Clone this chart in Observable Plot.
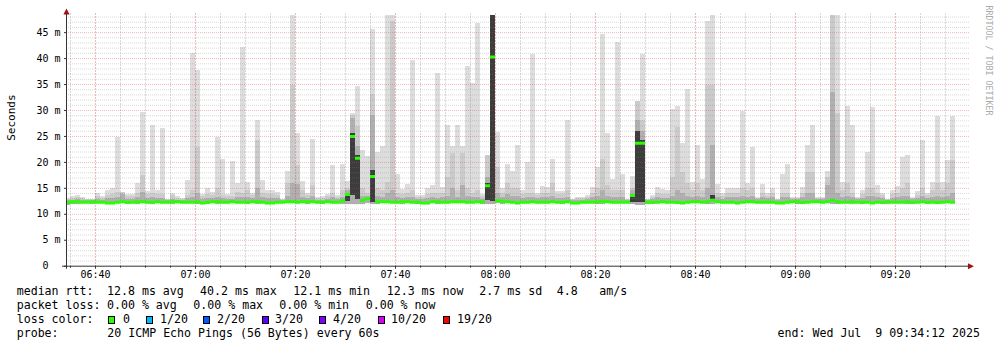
<!DOCTYPE html>
<html>
<head>
<meta charset="utf-8">
<script src="https://cdn.jsdelivr.net/npm/d3@7"></script>
<script src="https://cdn.jsdelivr.net/npm/@observablehq/plot@0.6"></script>
<style>
  html, body { margin: 0; padding: 0; background: #fff; }
  #wrap { position: relative; width: 997px; height: 347px; overflow: hidden; background: #fff; }
  #wrap svg { position: absolute; left: 0; top: 0; }
  .lg { position: absolute; font-family: "DejaVu Sans Mono", monospace; font-size: 11.6px; line-height: 14px; white-space: pre; color: #000; }
  .box { position: absolute; width: 5px; height: 6px; border: 1px solid #000; }
</style>
</head>
<body>
<div id="wrap"></div>
<script>
// ---- data (one value per minute, first bar starts 06:34) ----
const firstBar = "2025-07-09T06:34:00Z";
const startTime = "2025-07-09T06:34:12Z";
const endTime = "2025-07-09T09:34:12Z";

const maxRtt = [13.0,13.4,13.6,13.2,12.9,12.9,14.0,13.4,14.5,15.0,
 24.8,14.2,13.9,13.8,16.0,29.7,14.4,27.2,14.6,26.6,
 12.9,14.1,13.4,13.0,16.5,41.0,37.8,13.8,15.0,14.2,
 24.8,20.5,13.9,20.1,15.9,42.1,16.2,14.1,28.1,16.5,
 14.5,14.5,14.2,12.9,18.2,48.5,25.6,16.3,14.1,24.4,
 13.3,13.4,13.9,19.4,13.6,19.6,16.3,29.5,34.7,22.2,
 21.2,45.6,22.0,23.0,48.5,48.5,17.6,14.7,15.7,39.6,
 13.6,13.6,15.0,15.6,37.2,15.2,27.2,23.1,27.1,23.1,
 38.5,35.2,46.7,13.9,21.3,48.5,25.8,15.0,19.6,18.2,
 23.3,14.5,20.0,40.8,14.1,15.3,15.2,20.5,14.3,14.3,
 28.1,12.9,13.2,13.2,13.6,15.2,19.1,44.6,25.6,16.7,
 43.1,17.6,12.9,17.3,31.7,40.7,12.9,13.7,15.2,14.7,
 14.5,30.1,30.8,23.7,34.1,16.1,23.3,16.7,47.2,48.5,
 15.7,14.0,15.0,15.0,15.0,29.8,16.0,22.8,13.3,15.7,
 14.0,15.0,12.9,17.6,19.6,13.2,13.2,15.2,23.3,27.2,
 13.2,13.2,18.2,48.5,48.5,16.2,30.8,27.2,13.2,14.6,
 22.0,30.5,15.5,14.1,12.9,14.5,15.3,21.0,21.3,13.2,
 14.3,24.2,14.0,16.2,28.9,16.2,20.3,28.8];

const p90Rtt = [12.8,13.1,13.2,13.0,12.8,12.8,13.4,13.1,13.6,13.8,
 14.2,14.2,13.5,13.4,14.0,17.5,13.8,14.0,13.8,13.8,
 12.8,13.6,13.1,12.8,13.6,14.5,22.8,13.4,13.8,13.6,
 15.0,13.6,13.4,13.4,14.2,14.0,14.5,13.6,24.3,14.0,
 13.8,13.8,13.6,12.8,15.9,34.9,19.4,14.5,13.6,15.6,
 13.0,13.0,13.4,14.0,13.2,14.5,15.0,29.0,27.0,15.0,
 14.0,33.0,15.0,14.5,16.2,47.2,14.0,13.8,14.0,14.5,
 13.2,13.2,13.8,14.0,14.0,14.0,17.0,21.7,14.5,21.7,
 15.0,14.0,14.5,13.4,21.3,48.5,19.0,14.0,16.0,15.0,
 15.0,13.8,14.0,14.0,13.6,14.0,14.0,16.0,13.8,13.8,
 14.5,12.8,13.0,13.0,13.2,14.0,15.0,20.5,15.5,14.5,
 14.5,14.5,12.8,15.0,31.7,28.0,12.8,13.3,14.0,13.8,
 13.8,17.0,26.8,18.0,16.0,14.5,16.0,14.5,34.9,34.9,
 14.0,13.5,14.0,14.0,14.0,15.0,14.5,15.0,13.0,14.0,
 13.5,14.0,12.8,14.0,14.0,13.0,13.0,14.0,18.0,18.0,
 13.0,13.0,17.0,48.5,29.5,14.5,16.0,14.0,13.0,13.8,
 15.0,15.0,14.0,13.6,12.8,13.8,14.0,15.0,16.0,13.0,
 13.6,15.0,13.6,14.5,16.0,14.5,16.0,20.3];

const p75Rtt = [12.6,12.7,12.8,12.7,12.6,12.6,12.9,12.7,13.0,13.0,
 13.2,13.8,12.9,12.8,13.2,14.2,13.0,13.2,13.0,13.0,
 12.6,12.9,12.7,12.6,13.0,13.2,14.0,12.9,13.0,13.0,
 13.2,13.0,12.8,12.9,13.2,13.2,13.2,13.0,15.0,13.2,
 13.0,13.0,13.0,12.6,13.5,16.0,15.7,13.2,13.0,13.5,
 12.7,12.7,12.9,13.2,12.8,13.2,14.5,28.4,23.0,13.5,
 13.5,29.0,13.5,13.2,14.0,14.5,13.2,13.0,13.2,13.2,
 12.8,12.8,13.0,13.2,13.0,13.2,13.5,15.0,13.2,15.5,
 13.5,13.2,13.2,12.9,17.0,48.5,14.0,13.2,13.8,13.5,
 13.5,13.0,13.2,13.2,13.0,13.2,13.2,13.5,13.0,13.0,
 13.2,12.6,12.7,12.7,12.8,13.2,13.5,14.5,13.5,13.2,
 13.2,13.2,12.6,14.5,28.1,26.0,12.6,12.8,13.2,13.0,
 13.0,13.5,14.5,14.0,13.5,13.2,13.5,13.2,15.0,23.3,
 13.2,12.9,13.2,13.2,13.2,13.5,13.2,13.5,12.8,13.2,
 13.0,13.2,12.6,13.2,13.2,12.8,12.8,13.2,14.0,14.0,
 12.8,12.8,15.5,33.4,14.0,13.2,13.5,13.2,12.8,13.0,
 13.5,13.5,13.2,13.0,12.6,13.0,13.2,13.5,13.5,12.8,
 13.0,13.5,13.0,13.2,13.5,13.2,13.5,14.0];

const medianRtt = [12.3,12.4,12.4,12.3,12.3,12.4,12.3,12.3,12.2,12.2,
 12.3,12.4,12.3,12.3,12.4,12.4,12.3,12.3,12.4,12.3,
 12.3,12.4,12.4,12.3,12.3,12.3,12.4,12.2,12.3,12.4,
 12.4,12.3,12.3,12.4,12.3,12.3,12.3,12.4,12.4,12.3,
 12.2,12.2,12.3,12.3,12.4,12.4,12.3,12.4,12.4,12.4,
 12.3,12.3,12.4,12.3,12.3,12.6,13.8,25.0,20.8,12.7,
 13.0,17.3,12.4,12.4,12.4,12.3,12.3,12.4,12.4,12.3,
 12.3,12.2,12.2,12.4,12.4,12.3,12.3,12.4,12.4,12.4,
 12.3,12.3,12.4,12.4,15.5,40.3,12.6,12.5,12.4,12.3,
 12.2,12.3,12.3,12.4,12.3,12.3,12.3,12.4,12.3,12.3,
 12.4,12.2,12.2,12.3,12.3,12.3,12.4,12.5,12.4,12.3,
 12.3,12.3,12.3,13.6,23.7,23.7,12.3,12.3,12.3,12.4,
 12.3,12.3,12.3,12.2,12.3,12.4,12.4,12.3,12.4,12.7,
 12.4,12.3,12.3,12.3,12.2,12.3,12.4,12.4,12.3,12.3,
 12.3,12.3,12.2,12.2,12.3,12.4,12.4,12.3,12.3,12.4,
 12.4,12.3,12.4,12.7,12.4,12.3,12.3,12.4,12.3,12.3,
 12.3,12.2,12.3,12.3,12.4,12.3,12.3,12.3,12.4,12.3,
 12.3,12.4,12.3,12.3,12.3,12.3,12.4,12.3];

const minRtt = [11.7,11.9,11.9,12.0,12.0,11.9,12.0,12.0,11.8,11.9,
 12.0,12.0,11.9,12.0,11.9,12.0,12.0,11.8,12.0,12.0,
 12.0,11.9,12.0,12.0,12.0,12.0,11.9,11.9,11.8,12.0,
 11.9,12.0,12.0,12.0,12.0,12.0,11.9,12.0,11.9,12.0,
 11.9,11.9,12.0,12.0,12.0,12.0,12.0,12.0,11.9,12.0,
 12.0,11.9,12.0,12.0,12.0,11.9,11.8,11.9,11.8,11.9,
 12.0,11.9,11.9,12.0,12.0,12.0,12.0,11.9,12.0,12.0,
 11.9,12.0,12.0,12.0,11.9,12.0,12.0,12.0,12.0,12.0,
 12.0,12.0,12.0,11.8,11.8,11.9,12.0,11.8,12.0,12.0,
 12.0,12.0,12.0,12.0,12.0,12.0,12.0,12.0,12.0,11.9,
 12.0,11.9,12.0,12.0,12.0,12.0,11.8,11.9,12.0,12.0,
 12.0,12.0,12.0,11.9,11.7,11.7,11.9,11.9,12.0,12.0,
 12.0,12.0,11.9,11.9,12.0,12.0,12.0,12.0,11.9,11.8,
 12.0,12.0,12.0,12.0,11.9,12.0,12.0,12.0,12.0,12.0,
 12.0,12.0,11.9,11.9,12.0,12.0,11.9,11.8,12.0,12.0,
 12.0,12.0,12.0,11.9,11.9,12.0,12.0,11.9,12.0,11.9,
 12.0,12.0,12.0,11.9,11.9,12.0,12.0,12.0,11.9,11.9,
 12.0,12.0,11.9,12.0,11.9,12.0,12.0,12.0];

// dark smoke core (bars where many pings were slow)
const coreBar = [56, 57, 58, 61, 84, 85, 113, 114, 115, 129];
const coreLo  = [12.4, 13.7, 12.8, 12.3, 12.6, 12.4, 12.3, 12.3, 12.3, 12.4];
const coreHi  = [14.0, 25.5, 21.3, 18.5, 16.0, 48.5, 13.8, 26.0, 24.2, 13.6];

const yTicks = [0, 5, 10, 15, 20, 25, 30, 35, 40, 45];
const yTickLabels = ["0\u00a0\u00a0", "5 m", "10 m", "15 m", "20 m", "25 m", "30 m", "35 m", "40 m", "45 m"];
const xTickLabels = ["06:40", "07:00", "07:20", "07:40", "08:00", "08:20", "08:40", "09:00", "09:20"];

const lossLabels = ["0", "1/20", "2/20", "3/20", "4/20", "10/20", "19/20"];
const lossColors = ["#26ff00", "#00b8ff", "#0059ff", "#5e00ff", "#7e00ff", "#dd00ff", "#ff0000"];

// ---- build tables ----
const MIN = 60000;
const t0 = new Date(firstBar).getTime();
const rows = maxRtt.map((mx, k) => ({
  t1: new Date(t0 + k * MIN), t2: new Date(t0 + (k + 1) * MIN),
  min: minRtt[k], p75: p75Rtt[k], p90: p90Rtt[k], max: mx, med: medianRtt[k]
}));
const core = coreBar.map((k, j) => ({t1: new Date(t0 + k * MIN), t2: new Date(t0 + (k + 1) * MIN), lo: coreLo[j], hi: coreHi[j]}));

const day = "2025-07-09T";
const xMajor = xTickLabels.map(s => new Date(day + s + ":00Z"));
const xMinor = d3.utcMinute.every(5).range(new Date(startTime), new Date(endTime)).filter(d => d.getUTCMinutes() % 20 !== 0);
const yMinor = d3.range(1, 49).filter(v => v % 5 !== 0);
const yMajor = yTicks.filter(v => v > 0);

const minorGrid = "rgba(130,130,130,0.30)";
const majorGrid = "rgba(215,70,70,0.38)";
const axisColor = "#333";
const arrowColor = "#a01010";

const upArrow = {draw(ctx, size) { const r = Math.sqrt(size / Math.PI); ctx.moveTo(0, -r); ctx.lineTo(r * 0.9, r * 0.75); ctx.lineTo(-r * 0.9, r * 0.75); ctx.closePath(); }};
const rightArrow = {draw(ctx, size) { const r = Math.sqrt(size / Math.PI); ctx.moveTo(r, 0); ctx.lineTo(-r * 0.75, -r * 0.9); ctx.lineTo(-r * 0.75, r * 0.9); ctx.closePath(); }};

const band = (y1, y2, fill) => Plot.rect(rows, {x1: "t1", x2: "t2", y1, y2, fill, clip: true, shapeRendering: "crispEdges"});

const chart = Plot.plot({
  width: 997, height: 282,
  marginLeft: 66, marginRight: 31, marginTop: 15, marginBottom: 16.3,
  x: {type: "utc", domain: [new Date(startTime), new Date(endTime)]},
  y: {domain: [0, 48.3]},
  style: {fontFamily: "'DejaVu Sans Mono', monospace", fontSize: "10px", color: "#000", background: "#fff", overflow: "visible"},
  marks: [
    band("min", "max", "#dddddd"),
    band("min", "p90", "#cbcbcb"),
    band("min", "p75", "#b0b0b0"),
    Plot.rect(core, {x1: "t1", x2: "t2", y1: "lo", y2: "hi", fill: "#3c3c3c", clip: true, shapeRendering: "crispEdges"}),
    Plot.ruleY(yMinor, {stroke: minorGrid, strokeDasharray: "1,1", insetRight: -3}),
    Plot.ruleX(xMinor, {stroke: minorGrid, strokeDasharray: "2,1", insetTop: -2}),
    Plot.ruleY(yMajor, {stroke: majorGrid, strokeDasharray: "1,1", insetRight: -3}),
    Plot.ruleX(xMajor, {stroke: majorGrid, strokeDasharray: "2,1", insetTop: -2}),
    Plot.ruleY(rows, {x1: "t1", x2: "t2", y: "med", stroke: "#26ff00", strokeWidth: 3, clip: true}),
    Plot.axisY({ticks: yTicks, tickFormat: d => yTickLabels[yTicks.indexOf(d)], tickSize: 2, tickPadding: 4, stroke: axisColor, label: null, fontSize: 10}),
    Plot.axisX({ticks: xMinor, tickFormat: () => "", tickSize: 2, stroke: axisColor, label: null}),
    Plot.axisX({ticks: xMajor, tickFormat: d3.utcFormat("%H:%M"), tickSize: 3, tickPadding: 2, stroke: axisColor, label: null, fontSize: 10}),
    Plot.ruleX([new Date(startTime)], {stroke: axisColor, insetTop: -3, insetBottom: -3}),
    Plot.ruleY([0], {stroke: axisColor, insetLeft: -4, insetRight: -3}),
    Plot.dot([0], {frameAnchor: "top-left", symbol: upArrow, r: 3.4, fill: arrowColor, stroke: "none", dy: -3.6}),
    Plot.dot([0], {frameAnchor: "bottom-right", symbol: rightArrow, r: 3.4, fill: arrowColor, stroke: "none", dx: 4}),
    Plot.text(["Seconds"], {text: d => d, frameAnchor: "left", dx: -55, rotate: -90, lineAnchor: "middle", fontSize: 11}),
    Plot.text(["RRDTOOL / TOBI OETIKER"], {text: d => d, frameAnchor: "top-right", dx: 22, dy: -10, rotate: 90, textAnchor: "start", lineAnchor: "middle", fontSize: 8.3, fill: "#aaaaaa"})
  ]
});

const wrap = document.getElementById("wrap");
wrap.appendChild(chart);

function addText(txt, left, top, extra) {
  const s = document.createElement("div");
  s.className = "lg";
  s.textContent = txt;
  s.style.left = left + "px";
  s.style.top = top + "px";
  if (extra) Object.assign(s.style, extra);
  wrap.appendChild(s);
}
const rowTop = [284, 298.3, 312.3, 326.3];
// row 1
[["median rtt:", 16.7], ["12.8 ms avg", 107], ["40.2 ms max", 200], ["12.1 ms min", 293.3], ["12.3 ms now", 386.7], ["2.7 ms sd", 479.3], ["4.8", 556.7], ["am/s", 599.3]]
  .forEach(([t, x]) => addText(t, x, rowTop[0]));
// row 2
[["packet loss:", 16.7], ["0.00 % avg", 107], ["0.00 % max", 193.3], ["0.00 % min", 279.3], ["0.00 % now", 365.7]]
  .forEach(([t, x]) => addText(t, x, rowTop[1]));
// row 3
addText("loss color:", 16.7, rowTop[2]);
const boxX = [108.3, 146, 203.3, 261.7, 319.3, 377.7, 442.7];
const labX = [123, 160, 217, 275, 333, 391, 457];
lossLabels.forEach((l, i) => {
  const b = document.createElement("div");
  b.className = "box";
  b.style.left = boxX[i] + "px";
  b.style.top = "315.7px";
  b.style.background = lossColors[i];
  wrap.appendChild(b);
  addText(l, labX[i], rowTop[2]);
});
// row 4
addText("probe:", 16.7, rowTop[3]);
addText("20 ICMP Echo Pings (56 Bytes) every 60s", 107.3, rowTop[3]);
addText("end: Wed Jul  9 09:34:12 2025", 0, rowTop[3], {left: "auto", right: (997 - 980) + "px"});
</script>
</body>
</html>
